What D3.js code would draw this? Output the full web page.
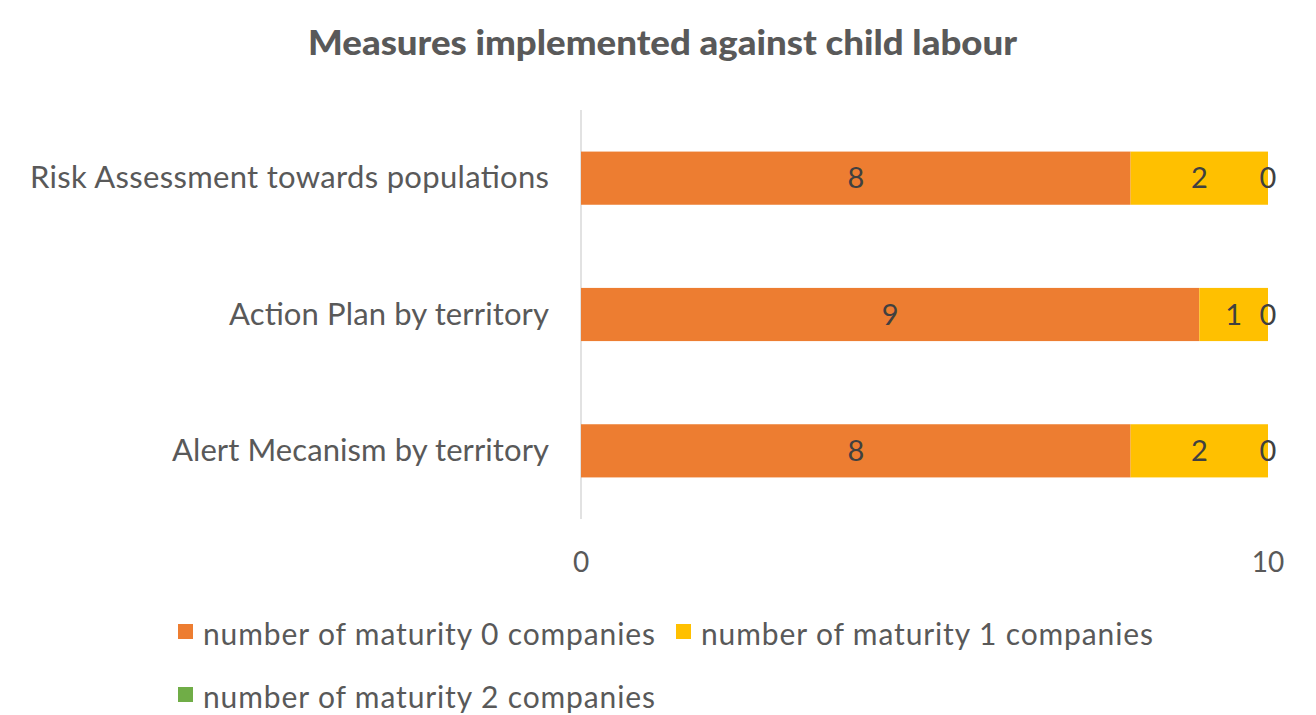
<!DOCTYPE html>
<html>
<head>
<meta charset="utf-8">
<script src="https://cdn.jsdelivr.net/npm/d3@7"></script>
<style>
  body { margin: 0; background: #fff; }
  text { font-family: Lato, "Noto Sans", sans-serif; fill: #595959; }
</style>
</head>
<body>
<div class="container"></div>
<script>
'use strict';

// data
var categories = ['Risk Assessment towards populations', 'Action Plan by territory', 'Alert Mecanism by territory'];
var seriesNames = ['number of maturity 0 companies', 'number of maturity 1 companies', 'number of maturity 2 companies'];
var maturity0 = [8, 9, 8];
var maturity1 = [2, 1, 2];
var maturity2 = [0, 0, 0];
var xTicks = [0, 10];
var colors = ['#ED7D31', '#FFC000', '#70AD47'];

// measured text widths in the original (the font there is wider than ours)
var catWidths = [519, 320, 377];
var legendWidth = 452;

var width = 1316, height = 715;

var svg = d3.select('.container').append('svg')
  .attr('width', width)
  .attr('height', height);

svg.append('text')
  .attr('x', 308)
  .attr('y', 55)
  .attr('textLength', 709)
  .attr('lengthAdjust', 'spacingAndGlyphs')
  .style('font-size', '34px')
  .style('font-weight', '900')
  .text('Measures implemented against child labour');

var x = d3.scaleLinear().domain([0, 10]).range([581, 1268]);
var y = d3.scaleBand().domain(categories).range([110, 519]).paddingInner(0.61).paddingOuter(0.305);

var rows = categories.map(function(c, i) {
  return { cat: c, s0: maturity0[i], s1: maturity1[i], s2: maturity2[i] };
});
var stack = d3.stack().keys(['s0', 's1', 's2'])(rows);

// axis line
svg.append('line')
  .attr('x1', x(0)).attr('x2', x(0))
  .attr('y1', 110).attr('y2', 519)
  .attr('stroke', '#d9d9d9').attr('stroke-width', 1.5);

var layers = svg.selectAll('g.layer').data(stack).enter().append('g')
  .attr('class', 'layer')
  .attr('fill', function(d, i) { return colors[i]; });

layers.selectAll('rect').data(function(d) { return d; }).enter().append('rect')
  .attr('x', function(d) { return x(d[0]); })
  .attr('width', function(d) { return x(d[1]) - x(d[0]); })
  .attr('y', function(d) { return y(d.data.cat); })
  .attr('height', y.bandwidth());

// value labels
stack.forEach(function(layer) {
  svg.selectAll(null).data(layer).enter().append('text')
    .attr('x', function(d) { return (x(d[0]) + x(d[1])) / 2; })
    .attr('y', function(d) { return y(d.data.cat) + y.bandwidth() / 2 + 10; })
    .attr('text-anchor', 'middle')
    .style('font-size', '29px')
    .style('fill', '#404040')
    .text(function(d) { return d[1] - d[0]; });
});

// category labels
svg.selectAll('text.cat').data(categories).enter().append('text')
  .attr('class', 'cat')
  .attr('x', function(d, i) { return 549 - catWidths[i]; })
  .attr('y', function(d) { return y(d) + y.bandwidth() / 2 + 10; })
  .attr('textLength', function(d, i) { return catWidths[i]; })
  .attr('lengthAdjust', 'spacing')
  .style('font-size', '31px')
  .text(function(d) { return d; });

// x ticks
svg.selectAll('text.tick').data(xTicks).enter().append('text')
  .attr('class', 'tick')
  .attr('x', function(d) { return x(d); })
  .attr('y', 572)
  .attr('text-anchor', 'middle')
  .style('font-size', '28px')
  .text(function(d) { return d; });

// legend
var legendPos = [[178, 636], [676, 636], [178, 699]];
var lg = svg.selectAll('g.legend').data(seriesNames).enter().append('g')
  .attr('class', 'legend')
  .attr('transform', function(d, i) { return 'translate(' + legendPos[i][0] + ',' + legendPos[i][1] + ')'; });
lg.append('rect')
  .attr('x', 0).attr('y', -12)
  .attr('width', 15).attr('height', 15)
  .attr('fill', function(d, i) { return colors[i]; });
lg.append('text')
  .attr('x', 25).attr('y', 9)
  .attr('textLength', legendWidth)
  .attr('lengthAdjust', 'spacing')
  .style('font-size', '30px')
  .text(function(d) { return d; });
</script>
</body>
</html>
